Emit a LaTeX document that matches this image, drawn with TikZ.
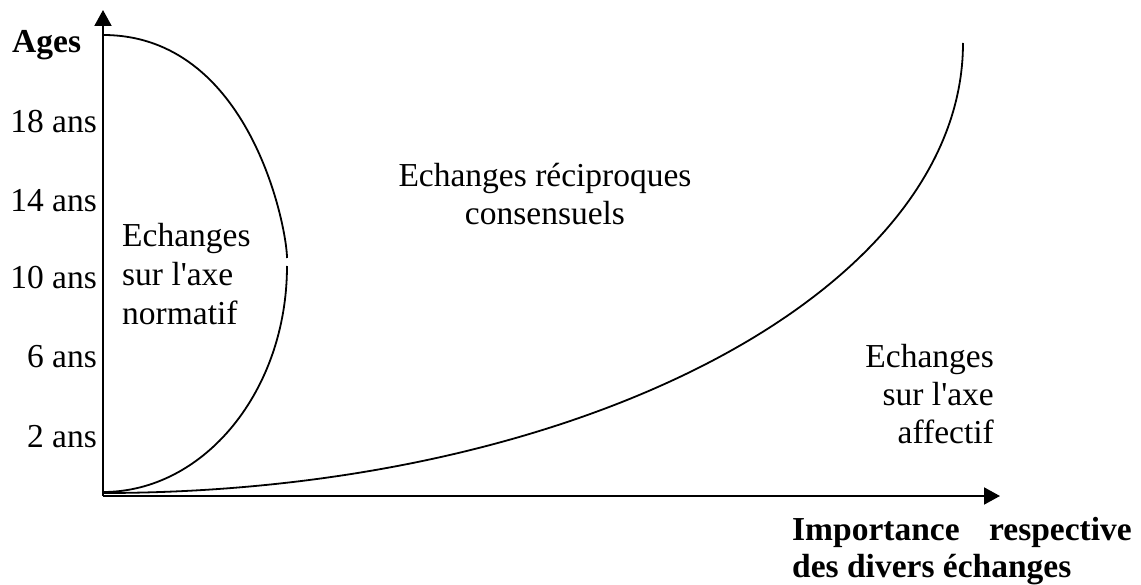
\documentclass[tikz,border=0pt]{standalone}
\usepackage{fontspec}
\setmainfont{Liberation Serif}
\usetikzlibrary{arrows.meta}
\begin{document}
\begin{tikzpicture}[x=1pt,y=-1pt,
  lbl/.style={inner sep=0pt, font=\fontsize{33.5}{38}\selectfont},
  blbl/.style={inner sep=0pt, font=\fontsize{33.5}{38}\selectfont\bfseries},
  axis/.style={line width=2pt, -{Triangle[length=16pt,width=17pt]}},
  crv/.style={line width=1.8pt}]
\useasboundingbox (0,0) rectangle (1141,585);
% axes
\coordinate (O) at (103,496);
\coordinate (ytip) at (103,10);
\coordinate (xtip) at (1000,496);
\draw[axis] (O) -- (ytip);
\draw[axis] (O) -- (xtip);
% left curve (normatif)
\coordinate (la) at (103,35);
\coordinate (lm1) at (287,258);
\coordinate (lm2) at (287,266);
\coordinate (lb) at (103,492);
\draw[crv] (la) .. controls (250,35) and (287,228) .. (lm1);
\draw[crv] (lm2) .. controls (287,391) and (204,492) .. (lb);
% right curve (affectif)
\coordinate (ra) at (103,493);
\coordinate (rb) at (963,43);
\draw[crv] (ra) .. controls (578,493) and (963,292) .. (rb);
% y labels
\node[blbl, anchor=base west] (ages) at (12,53) {Ages};
\node[lbl, anchor=base east] (t18) at (97,133) {18 ans};
\node[lbl, anchor=base east] (t14) at (97,212) {14 ans};
\node[lbl, anchor=base east] (t10) at (97,289) {10 ans};
\node[lbl, anchor=base east] (t6) at (97,368) {6 ans};
\node[lbl, anchor=base east] (t2) at (97,447) {2 ans};
% left zone text
\node[lbl, anchor=base west] (n1) at (122,247) {Echanges};
\node[lbl, anchor=base west] (n2) at (122,286) {sur l\textquotesingle axe};
\node[lbl, anchor=base west] (n3) at (122,325) {normatif};
% central text
\node[lbl, anchor=base] (c1) at (545,187) {Echanges réciproques};
\node[lbl, anchor=base] (c2) at (545,225) {consensuels};
% right zone text
\node[lbl, anchor=base east] (a1) at (994,367) {Echanges};
\node[lbl, anchor=base east] (a2) at (994,405) {sur l\textquotesingle axe};
\node[lbl, anchor=base east] (a3) at (994,443) {affectif};
% x label
\node[blbl, anchor=base west] (x1) at (792,540) {Importance};
\node[blbl, anchor=base east] (x2) at (1132,540) {respective};
\node[blbl, anchor=base west] (x3) at (792,577) {des divers échanges};
\end{tikzpicture}
\end{document}
